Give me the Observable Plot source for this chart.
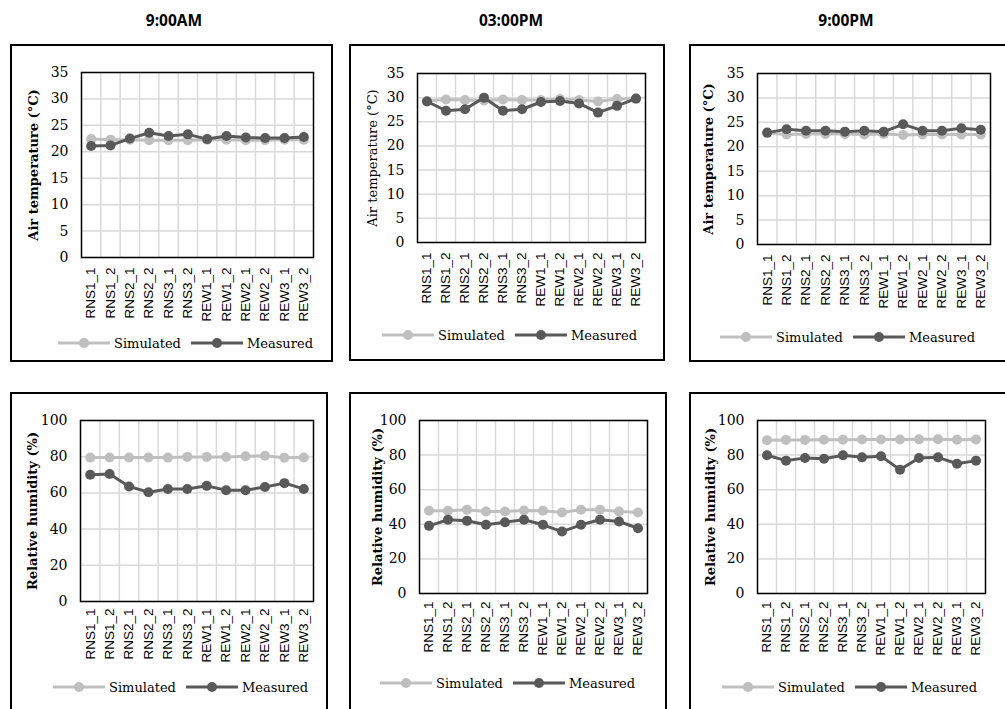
<!DOCTYPE html>
<html><head><meta charset="utf-8">
<script src="https://cdn.jsdelivr.net/npm/d3@7"></script>
<script src="https://cdn.jsdelivr.net/npm/@observablehq/plot@0.6"></script>
<style>
html,body{margin:0;padding:0;background:#fff;}
#page{position:relative;width:1005px;height:709px;overflow:hidden;background:#fff;}
.box{position:absolute;border:2px solid #000;box-sizing:border-box;}
.title{position:absolute;width:200px;text-align:center;font-family:"Open Sans";font-weight:bold;font-size:15.5px;color:#000;}
.legend{position:absolute;display:flex;align-items:center;font-family:"DejaVu Serif";font-size:13px;color:#000;white-space:nowrap;}
.legend svg{display:block;}
.plotwrap{position:absolute;}
</style>
</head><body><div id="page"></div>
<script>
const categories = ["RNS1_1","RNS1_2","RNS2_1","RNS2_2","RNS3_1","RNS3_2","REW1_1","REW1_2","REW2_1","REW2_2","REW3_1","REW3_2"];
const titles = ["9:00AM","03:00PM","9:00PM"];
const seriesNames = ["Simulated","Measured"];
const tempTicks = [0,5,10,15,20,25,30,35];
const rhTicks = [0,20,40,60,80,100];

const tempSim9am  = [22.4,22.3,22.3,22.2,22.2,22.2,22.3,22.3,22.2,22.2,22.3,22.3];
const tempMeas9am = [21.1,21.2,22.5,23.6,23.0,23.3,22.4,23.0,22.7,22.6,22.6,22.8];
const tempSim3pm  = [29.3,29.6,29.5,29.4,29.6,29.5,29.5,29.7,29.5,29.2,29.7,29.8];
const tempMeas3pm = [29.2,27.3,27.6,30.0,27.3,27.6,29.1,29.3,28.8,26.9,28.3,29.8];
const tempSim9pm  = [22.8,22.5,22.6,22.6,22.6,22.5,22.6,22.4,22.5,22.5,22.5,22.5];
const tempMeas9pm = [22.9,23.6,23.3,23.3,23.1,23.3,23.1,24.6,23.3,23.3,23.8,23.5];
const rhSim9am  = [79.5,79.6,79.6,79.6,79.5,79.9,79.9,79.8,80.2,80.5,79.4,79.6];
const rhMeas9am = [70.0,70.4,63.5,60.4,62.2,62.2,63.9,61.5,61.5,63.3,65.4,62.2];
const rhSim3pm  = [47.8,47.8,48.4,47.4,47.4,48.0,47.8,46.8,48.4,48.4,47.4,46.8];
const rhMeas3pm = [39.1,42.6,42.0,39.7,41.2,42.6,39.7,35.8,39.7,42.6,41.6,37.7];
const rhSim9pm  = [88.6,88.8,88.8,88.9,88.9,89.0,89.0,89.0,89.1,89.2,88.9,89.0];
const rhMeas9pm = [79.9,76.8,78.3,77.9,79.9,78.7,79.3,71.6,78.3,78.7,75.0,76.8];

const simColor = "#bfbfbf", measColor = "#595959", gridColor = "#d9d9d9";
const serif = "DejaVu Serif", sans = "Liberation Sans";

const panels = [
  {sim:tempSim9am, meas:tempMeas9am, ticks:tempTicks, label:"Air temperature (°C)", bold:true, dx:-48, xpad:10,
   plot:[81,72,313,257], box:[10,44,333,362], legend:[58,343]},
  {sim:tempSim3pm, meas:tempMeas3pm, ticks:tempTicks, label:"Air temperature (°C)", bold:false, dx:-45, xpad:10,
   plot:[417,73,645,242], box:[349,44,665,361], legend:[382,335]},
  {sim:tempSim9pm, meas:tempMeas9pm, ticks:tempTicks, label:"Air temperature (°C)", bold:true, dx:-49, xpad:10,
   plot:[757,73,990,244], box:[689,44,1015,362], legend:[720,337]},
  {sim:rhSim9am, meas:rhMeas9am, ticks:rhTicks, label:"Relative humidity (%)", bold:true, dx:-48, xpad:7,
   plot:[80,420,313,601], box:[10,392,328,720], legend:[53,687]},
  {sim:rhSim3pm, meas:rhMeas3pm, ticks:rhTicks, label:"Relative humidity (%)", bold:true, dx:-42, xpad:8,
   plot:[419,420,647,593], box:[349,392,667,720], legend:[380,683]},
  {sim:rhSim9pm, meas:rhMeas9pm, ticks:rhTicks, label:"Relative humidity (%)", bold:true, dx:-47, xpad:8,
   plot:[757,420,985,593], box:[689,392,1015,720], legend:[722,687]}
];

const page = document.getElementById("page");
const titleX = [174,511,846];
titles.forEach((t,i)=>{
  const d = document.createElement("div");
  d.className = "title";
  d.textContent = t;
  d.style.left = (titleX[i]-100)+"px";
  d.style.top = "9px";
  page.appendChild(d);
});

const ML = 72, MT = 12, MR = 12, MB = 72;
panels.forEach(p=>{
  const box = document.createElement("div");
  box.className = "box";
  box.style.left = p.box[0]+"px"; box.style.top = p.box[1]+"px";
  box.style.width = (p.box[2]-p.box[0])+"px"; box.style.height = (p.box[3]-p.box[1])+"px";
  page.appendChild(box);

  const data = categories.map((c,i)=>({i, c, sim:p.sim[i], meas:p.meas[i]}));
  const idx = categories.map((c,i)=>i);
  const bounds = categories.slice(1).map((c,i)=>i+0.5);
  const ymax = p.ticks[p.ticks.length-1];
  const w = p.plot[2]-p.plot[0], h = p.plot[3]-p.plot[1];
  const chart = Plot.plot({
    width: w+ML+MR, height: h+MT+MB,
    marginLeft: ML, marginRight: MR, marginTop: MT, marginBottom: MB,
    style: {background:"transparent", fontFamily: serif, fontSize:"13px", color:"#000", overflow:"visible"},
    x: {type:"linear", domain:[-0.5, categories.length-0.5]},
    y: {domain:[0, ymax]},
    marks: [
      Plot.ruleY(p.ticks, {stroke:gridColor, strokeWidth:1.5}),
      Plot.ruleX(bounds, {stroke:gridColor, strokeWidth:1.5}),
      Plot.frame({stroke:"#000", strokeWidth:1.5}),
      Plot.axisY(p.ticks, {tickSize:0, tickPadding:13, label:null, fontFamily:serif, fontSize:14}),
      Plot.axisX(idx, {tickSize:0, tickPadding:p.xpad, tickRotate:-90, label:null, tickFormat:i=>categories[i], fontFamily:sans, fontSize:13.5}),
      Plot.line(data, {x:"i", y:"sim", stroke:simColor, strokeWidth:3}),
      Plot.dot(data, {x:"i", y:"sim", r:5, fill:simColor, stroke:"none"}),
      Plot.line(data, {x:"i", y:"meas", stroke:measColor, strokeWidth:3}),
      Plot.dot(data, {x:"i", y:"meas", r:5, fill:measColor, stroke:"none"}),
      Plot.text([p.label], {frameAnchor:"left", rotate:-90, dx:p.dx, text:d=>d, textAnchor:"middle", fontFamily:serif, fontSize:13, fontWeight:p.bold?"bold":"normal", fill:"#000"})
    ]
  });
  const wrap = document.createElement("div");
  wrap.className = "plotwrap";
  wrap.style.left = (p.plot[0]-ML)+"px"; wrap.style.top = (p.plot[1]-MT)+"px";
  wrap.appendChild(chart);
  page.appendChild(wrap);

  const lg = document.createElement("div");
  lg.className = "legend";
  lg.style.left = p.legend[0]+"px"; lg.style.top = (p.legend[1]-9)+"px"; lg.style.height="18px";
  [[seriesNames[0],simColor],[seriesNames[1],measColor]].forEach(([name,col],k)=>{
    const ns = "http://www.w3.org/2000/svg";
    const s = document.createElementNS(ns,"svg");
    s.setAttribute("width",52); s.setAttribute("height",12);
    s.style.marginLeft = k ? "10px" : "0";
    s.style.marginRight = "4px";
    const l = document.createElementNS(ns,"line");
    l.setAttribute("x1",0); l.setAttribute("x2",52); l.setAttribute("y1",6); l.setAttribute("y2",6);
    l.setAttribute("stroke",col); l.setAttribute("stroke-width",3);
    const c = document.createElementNS(ns,"circle");
    c.setAttribute("cx",26); c.setAttribute("cy",6); c.setAttribute("r",5); c.setAttribute("fill",col);
    s.appendChild(l); s.appendChild(c);
    lg.appendChild(s);
    const sp = document.createElement("span");
    sp.textContent = name;
    lg.appendChild(sp);
  });
  page.appendChild(lg);
});
</script>
</body></html>
